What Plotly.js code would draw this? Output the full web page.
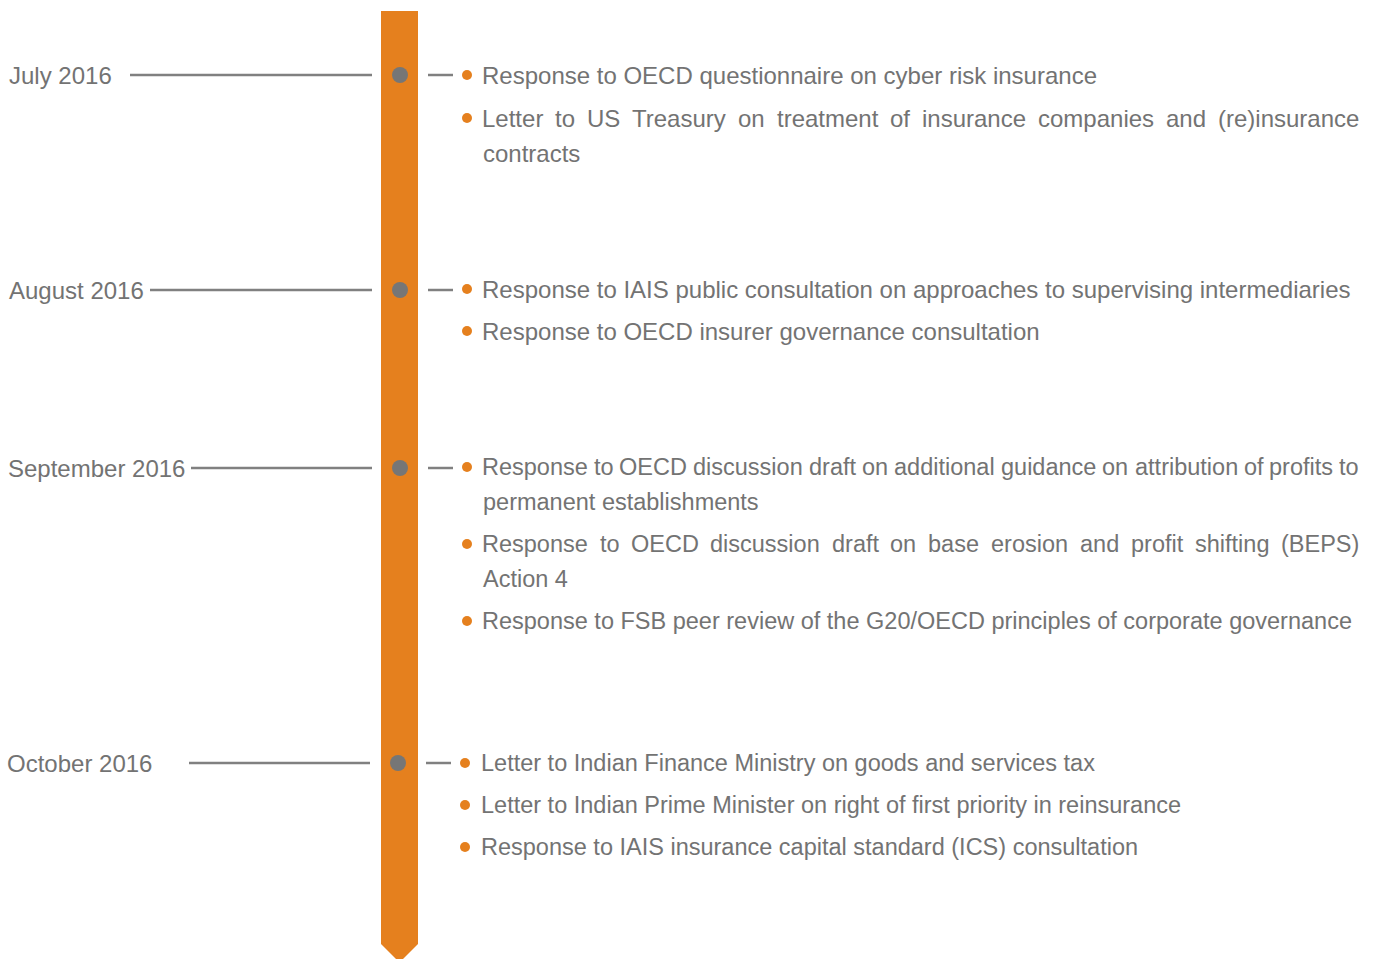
<!DOCTYPE html>
<html>
<head>
<meta charset="utf-8">
<script src="https://cdn.plot.ly/plotly-3.0.1.min.js"></script>
<style>html,body{margin:0;padding:0;background:#fff;}#chart{width:1376px;height:959px;}</style>
</head>
<body>
<div id="chart"></div>
<script>
// ---- data ----
const months = ['July 2016', 'August 2016', 'September 2016', 'October 2016'];
const julyItems = [
  ['Response to OECD questionnaire on cyber risk insurance'],
  ['Letter to US Treasury on treatment of insurance companies and (re)insurance', 'contracts']
];
const augustItems = [
  ['Response to IAIS public consultation on approaches to supervising intermediaries'],
  ['Response to OECD insurer governance consultation']
];
const septemberItems = [
  ['Response to OECD discussion draft on additional guidance on attribution of profits to', 'permanent establishments'],
  ['Response to OECD discussion draft on base erosion and profit shifting (BEPS)', 'Action 4'],
  ['Response to FSB peer review of the G20/OECD principles of corporate governance']
];
const octoberItems = [
  ['Letter to Indian Finance Ministry on goods and services tax'],
  ['Letter to Indian Prime Minister on right of first priority in reinsurance'],
  ['Response to IAIS insurance capital standard (ICS) consultation']
];
const itemsByMonth = [julyItems, augustItems, septemberItems, octoberItems];

// ---- layout (pixel positions) ----
const W = 1376, H = 959;
const rowY = [75, 290, 468, 763];
const itemY = [[75, 118], [289, 331], [467, 544, 621], [763, 805, 847]];
const labelX = [8, 8, 7, 6];
const leaderStart = [130, 150, 191, 189];
const leaderEnd = [372, 372, 372, 370];
const dotShift = [0, 0, 0, -2];
const textShift = [0, 0, 0, -1];
const itemFS = [24, 24, 23.5, 23.5];
const labelFS = 24;
const lineGap = 35;
const textLeft = 481, textRight = 1358;
const ORANGE = '#E5801E', GREY = '#737373', LINE = '#808080';
const FONT = 'Liberation Sans, Arial, sans-serif';

const cv = document.createElement('canvas').getContext('2d');

const shapes = [];
const annotations = [];
// timeline bar with arrow tip
shapes.push({type: 'path', xref: 'x', yref: 'y', layer: 'below',
  path: 'M381,11 L418,11 L418,944 L399.5,962.5 L381,944 Z',
  fillcolor: ORANGE, line: {width: 0}});

const bigDotX = [], bigDotY = [], bulletX = [], bulletY = [];

function addText(txt, x, y, fs) {
  annotations.push({text: txt, x: x, y: y, xref: 'x', yref: 'y', xanchor: 'left', yanchor: 'middle',
    showarrow: false, borderpad: 0, font: {family: FONT, size: fs, color: GREY}});
}

months.forEach((m, i) => {
  const dx = dotShift[i], tx = textShift[i], fs = itemFS[i];
  cv.font = fs + 'px "Liberation Sans"';
  addText(m, labelX[i], rowY[i], labelFS);
  shapes.push({type: 'line', xref: 'x', yref: 'y', layer: 'below', x0: leaderStart[i], x1: leaderEnd[i], y0: rowY[i], y1: rowY[i], line: {color: LINE, width: 2.5}});
  shapes.push({type: 'line', xref: 'x', yref: 'y', layer: 'below', x0: 428 + dx, x1: 453 + dx, y0: rowY[i], y1: rowY[i], line: {color: LINE, width: 2.5}});
  bigDotX.push(400 + dx); bigDotY.push(rowY[i]);
  itemsByMonth[i].forEach((lines, j) => {
    const y0 = itemY[i][j];
    bulletX.push(467 + dx); bulletY.push(y0);
    lines.forEach((ln, k) => {
      const y = y0 + k * lineGap;
      const x = textLeft + tx + (k > 0 ? 1 : 0);
      const justify = lines.length > 1 && k < lines.length - 1;
      if (!justify) { addText(ln, x, y, fs); return; }
      const words = ln.split(' ');
      const widths = words.map(w => cv.measureText(w).width);
      const total = widths.reduce((a, b) => a + b, 0);
      const gap = (textRight - x - total) / (words.length - 1);
      let cx = x;
      words.forEach((w, q) => { addText(w, cx, y, fs); cx += widths[q] + gap; });
    });
  });
});

const traces = [
  {type: 'scatter', mode: 'markers', x: bigDotX, y: bigDotY, hoverinfo: 'skip',
    marker: {size: 16, color: '#767676', line: {width: 0}}},
  {type: 'scatter', mode: 'markers', x: bulletX, y: bulletY, hoverinfo: 'skip',
    marker: {size: 10, color: ORANGE, line: {width: 0}}}
];

const layout = {
  width: W, height: H, margin: {l: 0, r: 0, t: 0, b: 0},
  paper_bgcolor: '#fff', plot_bgcolor: '#fff', showlegend: false,
  xaxis: {range: [0, W], visible: false, fixedrange: true},
  yaxis: {range: [H, 0], visible: false, fixedrange: true},
  shapes: shapes, annotations: annotations
};
Plotly.newPlot('chart', traces, layout, {staticPlot: true, displayModeBar: false});
</script>
</body>
</html>
